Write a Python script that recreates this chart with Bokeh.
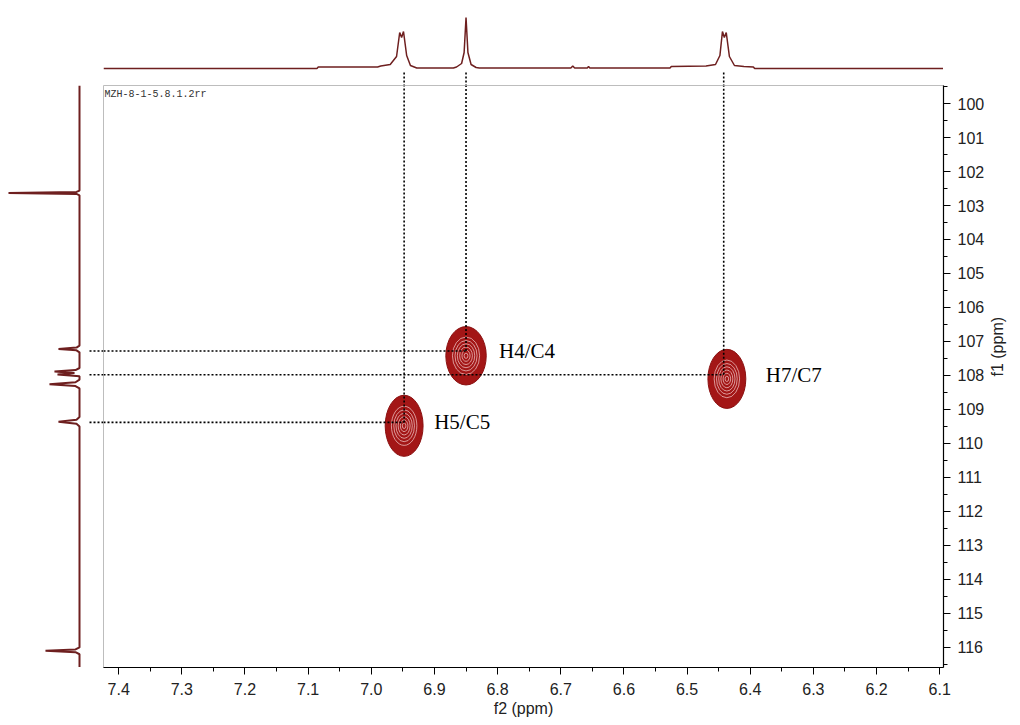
import math
from bokeh.plotting import figure
from bokeh.layouts import column, row, Spacer
from bokeh.models import Range1d, SingleIntervalTicker, Label, ColumnDataSource, PrintfTickFormatter
from bokeh.core.properties import value
from bokeh.embed import file_html
from bokeh.resources import INLINE

# ---------------- data ----------------
# 1H projection (top): f2 ppm / intensity
top_f2 = [7.424, 7.086, 7.084, 6.990, 6.985, 6.970, 6.960, 6.955, 6.952, 6.949,
          6.944, 6.938, 6.928, 6.870, 6.865, 6.857, 6.853, 6.850, 6.847, 6.842,
          6.834, 6.829, 6.684, 6.681, 6.678, 6.658, 6.656, 6.654, 6.527, 6.525,
          6.470, 6.455, 6.448, 6.444, 6.441, 6.438, 6.433, 6.425, 6.410, 6.395,
          6.393, 6.094]
top_int = [0, 0, 1.5, 1.5, 2.5, 4, 12, 36, 31, 37,
           13, 3, 0.5, 0.5, 1.5, 5, 16, 51, 16, 4,
           1, 0.5, 0.5, 2.5, 0.5, 0.5, 2, 0.5, 0.5, 2,
           2.5, 4, 13, 37, 31, 36, 12, 3, 2, 1.5,
           0, 0]

# 13C projection (left): f1 ppm / intensity
left_f1 = [99.47, 102.56, 102.60, 102.63, 102.66, 102.70,
           107.12, 107.18, 107.22, 107.26, 107.32,
           107.78, 107.84, 107.88, 107.93, 107.97, 108.02,
           108.12, 108.20, 108.26, 108.31, 108.38,
           109.22, 109.30, 109.36, 109.42, 109.50,
           116.00, 116.06, 116.10, 116.14, 116.20, 116.59]
left_int = [0, 0, 3, 71, 3, 0,
            0, 3, 21, 3, 0,
            0, 4, 25, 5, 22, 0,
            0, 4, 30, 4, 0,
            0, 3, 21, 3, 0,
            0, 4, 34, 4, 0, 0]

# HSQC cross peaks
peak_labels = ["H4/C4", "H5/C5", "H7/C7"]
peak_f2 = [6.850, 6.948, 6.442]
peak_f1 = [107.28, 109.38, 107.98]
contour_f2 = [6.850, 6.948, 6.437]
contour_f1 = [107.42, 109.48, 108.10]
contour_w = [0.064, 0.060, 0.060]
contour_h = [1.72, 1.80, 1.74]

x_ticks_interval = 0.1
y_ticks_interval = 1

# ---------------- style ----------------
X_START, X_END = 7.424, 6.094
Y_TOP, Y_BOT = 99.47, 116.59
TRACE = "#6e1f1f"
BLOB = "#a31616"
label_dx = [33, 30, 42]
FONT = "Liberation Sans"

xr = Range1d(X_START, X_END)
yr = Range1d(Y_BOT, Y_TOP)

main = figure(frame_width=840, frame_height=582, x_range=xr, y_range=yr,
              y_axis_location="right", output_backend="svg", toolbar_location=None,
              min_border_left=0, min_border_top=0, min_border_right=4, min_border_bottom=2)
main.outline_line_color = "#bdbdbd"
main.outline_line_width = 1
main.grid.visible = False
main.background_fill_color = "white"

for ax, tk in ((main.xaxis[0], SingleIntervalTicker(interval=x_ticks_interval, num_minor_ticks=2)),
               (main.yaxis[0], SingleIntervalTicker(interval=y_ticks_interval, num_minor_ticks=2))):
    ax.ticker = tk
    ax.major_tick_in = 0
    ax.major_tick_out = 7
    ax.minor_tick_in = 0
    ax.minor_tick_out = 4
    ax.axis_line_color = "black"
    ax.axis_line_width = 1.2
    ax.major_tick_line_color = "black"
    ax.minor_tick_line_color = "black"
    ax.major_label_text_font = FONT
    ax.major_label_text_font_size = "16px"
    ax.major_label_text_color = "#222222"
    ax.axis_label_text_font = FONT
    ax.axis_label_text_font_size = "16px"
    ax.axis_label_text_font_style = "normal"
    ax.axis_label_text_color = "#222222"

main.xaxis.formatter = PrintfTickFormatter(format="%.1f")
main.yaxis.formatter = PrintfTickFormatter(format="%d")
main.xaxis.axis_label = "f2 (ppm)"
main.yaxis.axis_label = "f1 (ppm)"
main.yaxis.axis_label_orientation = math.pi / 2
main.xaxis.major_label_standoff = 8
main.xaxis.axis_label_standoff = 2
main.yaxis.major_label_standoff = 7
main.yaxis.axis_label_standoff = 10

# contours
inner = [0.64, 0.52, 0.41, 0.30, 0.19, 0.09]
src = ColumnDataSource(dict(x=contour_f2, y=contour_f1, w=contour_w, h=contour_h))
main.ellipse(x="x", y="y", width="w", height="h", source=src,
             fill_color=BLOB, line_color="#8a1010", line_width=1)
for s in inner:
    main.ellipse(x=contour_f2, y=contour_f1,
                 width=[w * s * 1.05 for w in contour_w], height=[h * s for h in contour_h],
                 fill_color=None, line_color="#f6d6d6", line_width=0.8, line_alpha=0.85)

# dotted guide lines
main.segment(x0=peak_f2, y0=peak_f1, x1=peak_f2, y1=[Y_TOP] * 3,
             line_color="black", line_width=1.6, line_dash="2 2")
main.segment(x0=[X_START] * 3, y0=peak_f1, x1=peak_f2, y1=peak_f1,
             line_color="black", line_width=1.6, line_dash="2 2")

lab_src = ColumnDataSource(dict(x=peak_f2, y=peak_f1, t=peak_labels, dx=label_dx))
main.text(x="x", y="y", text="t", x_offset="dx", source=lab_src,
          text_font=value("Liberation Serif"), text_font_size="21px",
          text_baseline="middle", text_color="black")

main.add_layout(Label(x=X_START, y=Y_TOP, x_offset=1, y_offset=-3,
                      text="MZH-8-1-5.8.1.2rr", text_font="Liberation Mono",
                      text_font_size="10px", text_baseline="top", text_color="#333333"))

# top projection
top = figure(frame_width=840, frame_height=85, x_range=xr, y_range=Range1d(-17, 68),
             x_axis_location=None, y_axis_location=None, output_backend="svg",
             toolbar_location=None, min_border=0)
top.outline_line_color = None
top.grid.visible = False
top.line(top_f2, top_int, line_color=TRACE, line_width=1.5)
top.segment(x0=peak_f2, y0=[-4] * 3, x1=peak_f2, y1=[-17] * 3,
            line_color="black", line_width=1.6, line_dash="2 2")

# left projection
left = figure(frame_width=103, frame_height=582, x_range=Range1d(79, -24), y_range=yr,
              x_axis_location=None, y_axis_location=None, output_backend="svg",
              toolbar_location=None, min_border=0)
left.outline_line_color = None
left.grid.visible = False
left.line(left_int, left_f1, line_color=TRACE, line_width=2.0)
left.segment(x0=[-10] * 3, y0=peak_f1, x1=[-24] * 3, y1=peak_f1,
             line_color="black", line_width=1.6, line_dash="2 2")

p = column(row(Spacer(width=103, height=85), top), row(left, main))
open("out.html", "w").write(file_html(p, INLINE))
